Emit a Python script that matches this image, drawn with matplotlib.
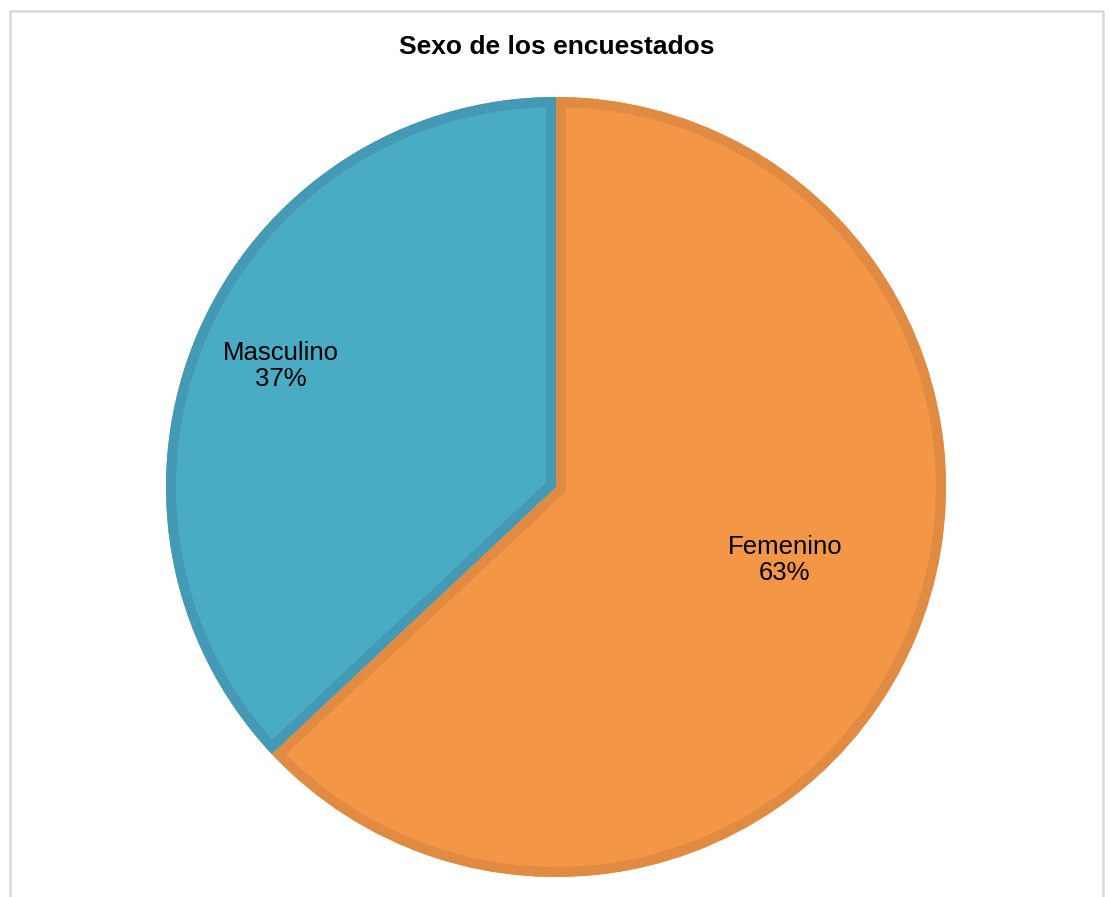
import matplotlib
matplotlib.use("Agg")
import matplotlib.pyplot as plt
from matplotlib.lines import Line2D
from matplotlib.patches import Wedge

categories = ["Femenino", "Masculino"]
percentages = [63, 37]
title = "Sexo de los encuestados"

fill_colors = ["#f39646", "#4aabc5"]
edge_colors = ["#e08a42", "#4499b4"]

W, H = 1109, 897
fig = plt.figure(figsize=(W / 100, H / 100), dpi=100)
ax = fig.add_axes([0, 0, 1, 1])

cx, cy, r = 556, H - 487, 390
wedges, _ = ax.pie(percentages, colors=fill_colors, startangle=90, counterclock=False,
                   radius=r, center=(cx, cy), frame=True,
                   wedgeprops=dict(linewidth=0))
ax.set_xlim(0, W)
ax.set_ylim(0, H)
ax.set_aspect("equal")
ax.axis("off")

for w, ec in zip(wedges, edge_colors):
    ew = Wedge(w.center, w.r, w.theta1, w.theta2, facecolor="none", edgecolor=ec,
               linewidth=14.4, joinstyle="miter", transform=ax.transData)
    ax.add_patch(ew)
    ew.set_clip_path(w.get_path(), ax.transData)

label_pos = [(785, H - 560), (281, H - 366)]
for cat, pct, (lx, ly) in zip(categories, percentages, label_pos):
    ax.text(lx, ly, f"{cat}\n{pct}%", ha="center", va="center", fontsize=18.5,
            family="Liberation Sans", linespacing=1.15, color="black")

fig.text(557 / W, 1 - 47 / H, title, ha="center", va="center", fontsize=19,
         fontweight="bold", family="Liberation Sans")

border = Line2D([10 / W, 10 / W, 1103 / W, 1103 / W], [0, 1 - 11 / H, 1 - 11 / H, 0],
                transform=fig.transFigure, color="#d9d9d9", linewidth=1.8)
fig.add_artist(border)

fig.savefig("out.png", dpi=100)
